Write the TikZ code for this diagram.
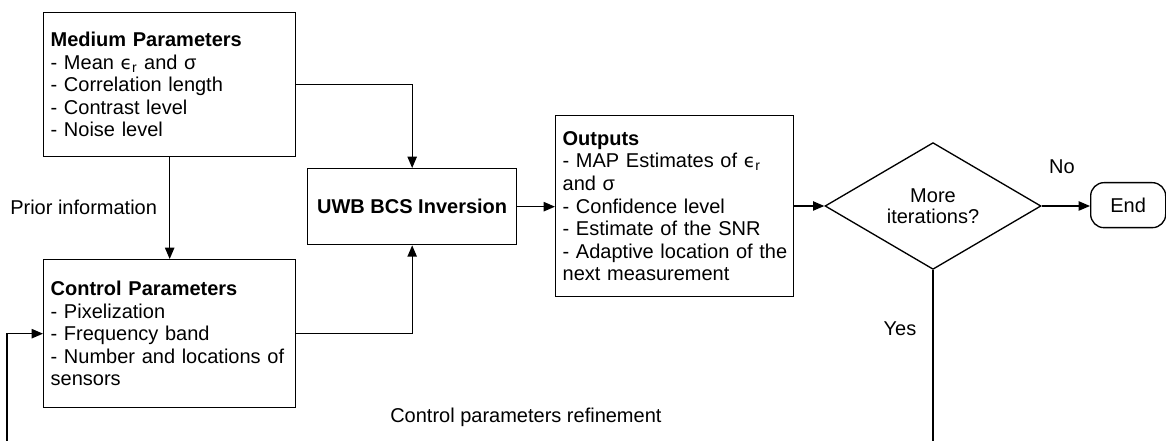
\documentclass[tikz,border=0pt]{standalone}
\usepackage{fontspec}
\setmainfont{Liberation Sans}
\newfontfamily\dejavu{DejaVu Sans}
\usetikzlibrary{shapes.geometric,arrows.meta}
\newcommand{\epsr}{{\dejavu\fontsize{14pt}{16pt}\selectfont ϵ}\textsubscript{r}}
\begin{document}
\begin{tikzpicture}[x=0.75pt,y=-0.75pt,
  every node/.style={font=\fontsize{15pt}{16.9pt}\selectfont},
  box/.style={draw, line width=1pt, rectangle, inner xsep=5.25pt, inner ysep=0pt, anchor=north west, align=left},
  arr/.style={line width=1pt, -{Triangle[length=8.5pt,width=7pt]}},
  lbl/.style={inner sep=0pt}]
\path[use as bounding box, clip] (0,0) rectangle (1166,441);
\node[box, minimum width=189pt, minimum height=108pt, text width=178.5pt] (med) at (43,12)
  {\textbf{Medium Parameters}\\- Mean \epsr{} and σ\\- Correlation length\\- Contrast level\\- Noise level};
\node[box, minimum width=189pt, minimum height=111pt, text width=178.5pt] (ctrl) at (43,259)
  {\textbf{Control Parameters}\\- Pixelization\\- Frequency band\\- Number and locations of\\sensors};
\node[box, minimum width=156.75pt, minimum height=57pt, align=center] (uwb) at (307,168)
  {\textbf{UWB BCS Inversion}};
\node[box, minimum width=178.5pt, minimum height=135.75pt, text width=168pt] (out) at (555,115)
  {\textbf{Outputs}\\- MAP Estimates of \epsr\\and σ\\- Confidence level\\- Estimate of the SNR\\\mbox{- Adaptive location of the}\\next measurement};
\node[draw, line width=1pt, diamond, minimum width=162pt, minimum height=92.25pt, inner sep=0pt, align=center] (dia) at (933,206)
  {More\\[-1.5pt]iterations?};
\node[draw, line width=1pt, rectangle, rounded corners=10pt, minimum width=56.25pt, minimum height=33.75pt, inner sep=0pt, anchor=north west] (end) at (1090,182) {End};

\node[lbl, anchor=west] (prior) at (10,207) {Prior information};
\node[lbl] (no) at (1062,167) {No};
\node[lbl] (yes) at (900,329) {Yes};
\node[lbl, anchor=west] (refine) at (390,417) {Control parameters refinement};

\coordinate (lb) at (7,470);

\draw[arr] (med.south) -- (ctrl.north);
\draw[arr] (med.east) -| (uwb.north);
\draw[arr] (ctrl.east) -| (uwb.south);
\draw[arr] (uwb.east) -- (uwb.east -| out.west);
\draw[arr] (dia.west -| out.east) -- (dia.west);
\draw[arr] (dia.east) -- (dia.east -| end.west);
\draw[arr] (dia.south) |- (lb) |- (ctrl.west);
\end{tikzpicture}
\end{document}
